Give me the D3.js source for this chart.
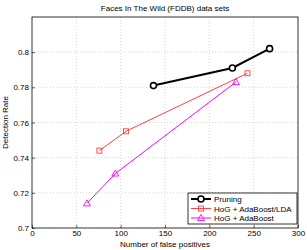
<!DOCTYPE html>
<html>
<head>
<meta charset="utf-8">
<script src="https://cdn.jsdelivr.net/npm/d3@7"></script>
<style>
  body { margin: 0; background: #fff; }
  text { font-family: "Liberation Sans", Arial, sans-serif; }
</style>
</head>
<body>
<script>
const [width, height] = [307, 250]
const margin = {top: 17, right: 9, bottom: 22, left: 32}

// series data
const pruningX = [137, 226, 268]
const pruningY = [0.781, 0.791, 0.802]
const ldaX = [76, 106, 243]
const ldaY = [0.744, 0.755, 0.788]
const adaX = [62, 94, 230]
const adaY = [0.714, 0.731, 0.783]

const xTicks = [0, 50, 100, 150, 200, 250, 300]
const yTicks = [0.7, 0.72, 0.74, 0.76, 0.78, 0.8]
const yGrid = [0.72, 0.74, 0.76, 0.78, 0.8]

const series = [
  {name: 'Pruning', xs: pruningX, ys: pruningY, color: '#000', width: 2, marker: 'circle'},
  {name: 'HoG + AdaBoost/LDA', xs: ldaX, ys: ldaY, color: '#ff4040', width: 1, marker: 'square'},
  {name: 'HoG + AdaBoost', xs: adaX, ys: adaY, color: '#ff00ff', width: 1, marker: 'triangle'}
]

const svg = d3.select('body')
  .append('svg')
  .attr('width', width)
  .attr('height', height)

const x = d3.scaleLinear().domain([0, 300]).range([margin.left, width - margin.right])
const y = d3.scaleLinear().domain([0.7, 0.82]).range([height - margin.bottom, margin.top])

// grid
svg.append('g')
  .selectAll('line.vg')
  .data(xTicks.slice(1, -1))
  .enter()
  .append('line')
    .attr('x1', d => x(d)).attr('x2', d => x(d))
    .attr('y1', y(0.7)).attr('y2', y(0.82))
    .attr('stroke', '#bbb').attr('stroke-width', 0.6)
    .attr('stroke-dasharray', '1,2')
svg.append('g')
  .selectAll('line.hg')
  .data(yGrid)
  .enter()
  .append('line')
    .attr('x1', x(0)).attr('x2', x(300))
    .attr('y1', d => y(d)).attr('y2', d => y(d))
    .attr('stroke', '#bbb').attr('stroke-width', 0.6)
    .attr('stroke-dasharray', '1,2')

// frame
svg.append('rect')
  .attr('x', x(0)).attr('y', y(0.82))
  .attr('width', x(300) - x(0)).attr('height', y(0.7) - y(0.82))
  .attr('fill', 'none').attr('stroke', '#000').attr('stroke-width', 0.8)

// axes
const xAxis = svg.append('g')
  .attr('transform', `translate(0,${y(0.7)})`)
  .call(d3.axisBottom(x).tickValues(xTicks).tickSize(-3).tickPadding(2).tickFormat(d3.format('d')))
const yAxis = svg.append('g')
  .attr('transform', `translate(${x(0)},0)`)
  .call(d3.axisLeft(y).tickValues(yTicks).tickSize(-3).tickPadding(3).tickFormat(d => d3.format('')(+d.toFixed(2))))
for (const ax of [xAxis, yAxis]) {
  ax.select('.domain').remove()
  ax.selectAll('line').attr('stroke', '#000').attr('stroke-width', 0.6)
  ax.selectAll('text').attr('font-size', 8).attr('fill', '#000')
    .attr('font-family', '"Liberation Sans", Arial, sans-serif')
}

// lines and markers
const line = d3.line().x(d => x(d[0])).y(d => y(d[1]))

function drawMarker(g, type, cx, cy, color) {
  if (type === 'circle') {
    g.append('circle').attr('cx', cx).attr('cy', cy).attr('r', 3)
      .attr('fill', '#fff').attr('stroke', color).attr('stroke-width', 1.6)
  } else if (type === 'square') {
    g.append('rect').attr('x', cx - 2.5).attr('y', cy - 2.5).attr('width', 5).attr('height', 5)
      .attr('fill', 'none').attr('stroke', color).attr('stroke-width', 0.9)
  } else {
    g.append('path').attr('d', `M${cx},${cy - 3.5}L${cx + 3.5},${cy + 2.5}L${cx - 3.5},${cy + 2.5}Z`)
      .attr('fill', 'none').attr('stroke', color).attr('stroke-width', 0.9)
  }
}

series.forEach(s => {
  const pts = s.xs.map((v, i) => [v, s.ys[i]])
  svg.append('path')
    .attr('d', line(pts))
    .attr('fill', 'none')
    .attr('stroke', s.color)
    .attr('stroke-width', s.width)
  const g = svg.append('g')
  pts.forEach(p => drawMarker(g, s.marker, x(p[0]), y(p[1]), s.color))
})

// legend
const lg = svg.append('g').attr('transform', 'translate(188,193)')
lg.append('rect')
  .attr('width', 109).attr('height', 31)
  .attr('fill', '#fff').attr('stroke', '#000').attr('stroke-width', 0.8)
series.forEach((s, i) => {
  const ly = 6 + i * 9.5
  lg.append('line')
    .attr('x1', 3).attr('x2', 23).attr('y1', ly).attr('y2', ly)
    .attr('stroke', s.color).attr('stroke-width', s.width)
  drawMarker(lg, s.marker, 13, ly, s.color)
  lg.append('text')
    .text(s.name)
    .attr('x', 26).attr('y', ly + 3)
    .attr('font-size', 8)
})

// title and labels
svg.append('text')
  .text('Faces In The Wild (FDDB) data sets')
  .attr('x', x(150)).attr('y', 11)
  .attr('text-anchor', 'middle')
  .attr('font-size', 8)
svg.append('text')
  .text('Number of false positives')
  .attr('x', x(150)).attr('y', 247)
  .attr('text-anchor', 'middle')
  .attr('font-size', 8)
svg.append('text')
  .text('Detection Rate')
  .attr('transform', `translate(8,${y(0.76)}) rotate(-90)`)
  .attr('text-anchor', 'middle')
  .attr('font-size', 8)
</script>
</body>
</html>
